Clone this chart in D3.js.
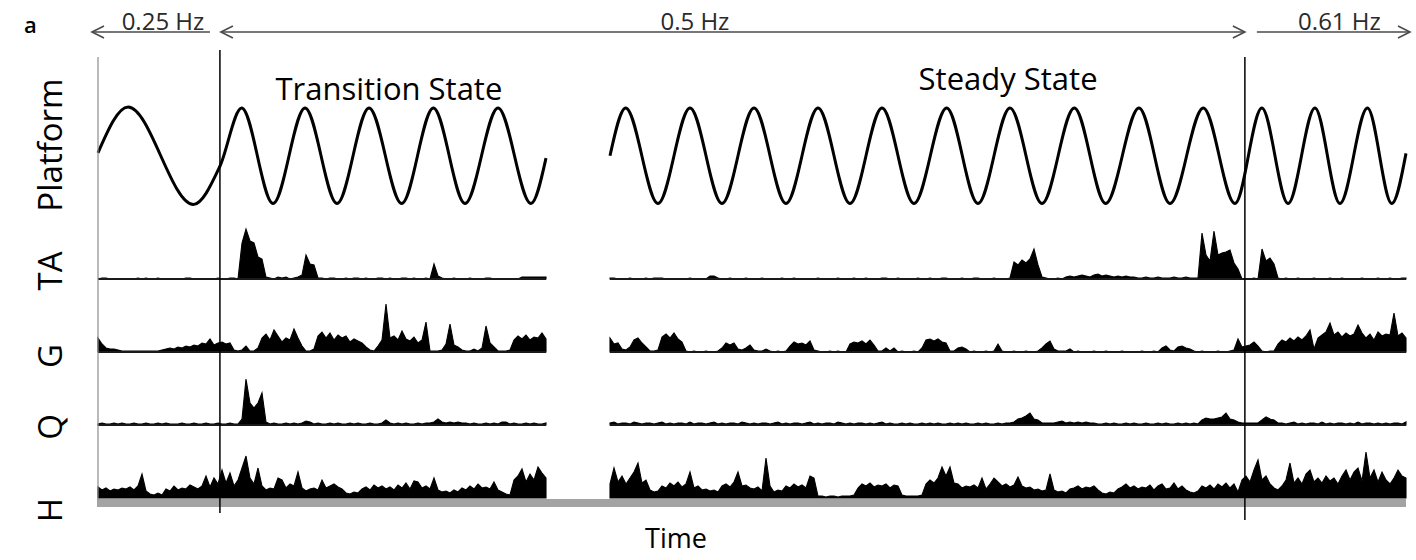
<!DOCTYPE html>
<html>
<head>
<meta charset="utf-8">
<script src="https://cdn.jsdelivr.net/npm/d3@7"></script>
<style>
  body { margin: 0; background: #fff; }
  svg { display: block; font-family: "Open Sans", sans-serif; }
</style>
</head>
<body>
<div id="chart"></div>
<script>
// channels, top to bottom
const channels = ['Platform', 'TA', 'G', 'Q', 'H'];

// the two recording windows shown (s), the part between them is cut out
const windows = [[0, 14], [16, 40.875]];
const sampleStep = 0.125; // s between EMG samples

// platform frequency phases (s)
const phases = [
  {label: '0.25 Hz', start: 0, end: 3.81},
  {label: '0.5 Hz', start: 3.81, end: 35.84},
  {label: '0.61 Hz', start: 35.84, end: 40.875}
];

// platform position, turning points [time s, normalised position]
const platformLeft = [[0, 0.06], [0.94, 1.02], [2.98, -1.02], [3.81, -0.22], [4.49, 1], [5.47, -1],
  [6.47, 1], [7.47, -1], [8.47, 1], [9.49, -1], [10.48, 1], [11.47, -1], [12.5, 1], [13.53, -1], [14, -0.05]];
const platformRight = [[16, 0], [16.49, 1], [17.5, -1], [18.5, 1], [19.5, -1], [20.5, 1], [21.5, -1],
  [22.5, 1], [23.5, -1], [24.5, 1], [25.5, -1], [26.52, 1], [27.5, -1], [28.5, 1], [29.5, -1],
  [30.51, 1], [31.49, -1], [32.53, 1], [33.5, -1], [34.54, 1], [35.53, -1], [36.37, 1], [37.19, -1],
  [38.03, 1], [38.81, -1], [39.67, 1], [40.43, -1], [40.875, 0.05]];

// rectified EMG (a.u.), one value every sampleStep
const taLeft = [0,1,1,0,0,0,0,0,0,0, 1,0,1,0,0,1,0,0,0,0, 0,0,1,1,0,0,0,0,0,0, 1,0,0,1,1,0,
  36,50,38,36,22,20,2, 1,0,2,1,2,0,1,2, 4,24,15,14,1,
  1,0,1,1,0,0,1,0,1,1, 0,1,0,0,1,1,0,1,0,0, 1,1,0,1,0,0,1,0, 15,3,
  1,0,0,1,0,0,0,1,0,0, 0,1,1,0,0,0,0,0,0,0, 2,2,2,2,2,2,2];
const taRight = [1,1,0,0,0,1,0,0,0,1, 0,1,1,1,0,0,0,0,0,0, 1,0,0,0,0, 3,3,
  1,0,0,1,0,0,0,1,0,0, 0,1,0,0,0,0,1,0,0,1, 0,0,0,0,0,1,0,0,0,0, 1,0,0,0,1,0,0,1,0,0,
  0,1,1,0,0,1,0,0,0,0, 1,0,0,1,0,0,1,1,0,0, 0,1,0,0,1,1,0,0,0,1, 0,0,0,1,
  17,14,19,16,20,30,14,2, 1,0,0,1,0,
  2,3,2,3,4,3,2,4,5,3,4,3,2,3,2,3,2,2,1, 1,2,1,1,2,1,1,1,2,1,1,2,1,1,1,
  46,24,18,48,24,26,27,29,16,10,0, 0,0,1,0, 30,18,21,15,1,
  0,1,0,0,1,0,0,0,1,0, 0,0,1,0,0,1,0,0,0,0, 1,0,0,0,1,0,0,1,0,0, 1,1];

const gLeft = [14,8,4,3,3,2,1,1,1,1, 1,1,1,1,1,1, 2,3,4,3,5,4,6,5,7,6,9,8,
  13,7,9,10,8,9,2,1,2,6,1,1,4, 14,18,12,22,16,10,14,12,23,14,6,
  1,1,3,16,20,14,19,12,17,14,16,10,13,11,9,5,2,1,6,12,
  48,14,16,12,21,13,11,15,9,12,30, 1,1,1,2,8,28,7,5,2,1,1,3,1,4,26,9,5,
  1,1,1,2,12,16,13,17,12,15,14,19,13];
const gRight = [14,8,9,3,2,5,12,14,9,5,1,1,2,15,18,14,19,13,10,1, 0,1,0,0,1,0,0,1,
  4,9,7,9,3,2,4,7,2,1,1,3,1, 0,1,0,1, 6,10,8,9,7,11,2, 1,0,0,1,0,1,0,0,
  8,10,9,11,8,12,7,1,1,4,1,4, 0,1,0,0,1,0, 4,12,13,11,13,10,9,1,1,4,5,3,
  0,1,0,0,1,0,1,8,1, 0,0,1,0,0,1,0,0, 1,4,8,11,3,1,1,1,3,
  0,1,0,0,0,1,0,0,1,0, 0,0,1,0,0,0,0,1,0,0, 1,0, 4,6,2,1,5,6,4,3,1, 0,1,0,0,0,1,0,0,1,
  2,13,5,6,7,10,6,1,0,1,1,
  8,12,10,14,11,15,12,16,22,3,14,17,20,29,17,20,15,19,16,18,27,19,14,18,12,20,16,18,17,39,16,19,14];

const qLeft = [1,2,1,1,2,1,2,1,1,2, 1,1,2,1,1,2,1,2,1,1, 1,2,1,1,2,1,1,2,1,1, 2,1,1,2,1,1,
  6,46,22,17,22,32,3, 1,2,1,1,2,1,2,1,2, 4,3,
  1,2,1,1,2,1,2,1,1,2,1,2,1,1,2,1,1, 2,5,2, 1,2,1,2,1,1,2,1,2,2, 3,6,3,
  2,3,2,3,2,2, 1,2,1,1,2,1,2,1, 3,3, 1,2,1,1,2,1,2,1,1,2];
const qRight = [2,3,1,2,2,1,3,2,1,2, 2,1,2,3,1,2,1,2,2,1, 3,1,2,2,1,2,3,1,2,1, 2,2,1,3,2,1,2,1,2,2,
  1,2,3,1,2,1,2,2,1,2, 3,1,2,1,2,2,1,3,2,1, 2,1,2,2,1,2,1,2,3,1, 2,1,1,2,1,2,1,1,2,1,
  2,1,2,1,1,2,1,2,1,2, 1,1,2,1,2,1,1,2,1,2,
  2,3,6,7,9,12,6,5,2,2,2,2,3,4,2,3,2,3,2,3,2,2,1,
  1,2,1,2,1,1,2,1,2,1, 1,2,1,1,2,1,2,1,1,2, 1,2,1,2,1,
  5,7,6,6,7,8,12,6,5,3, 2,2,2,2,2, 5,8,6,5,2,
  2,1,2,3,1,2,1,2,2,1, 3,1,2,1,2,2,1,2,1,3, 1,2,2,1,2,1,2,1,2,2, 1,3];

const hLeft = [11,8,10,7,9,8,10,9,11,8, 12,24,7,4,3,5,3,9,7,12, 8,10,9,13,11,9,12,22,11,20,
  14,28,15,25,12,18,30,42,20,14, 30,12,8,10,9,20,18,10,14,12, 26,10,7,9,10,8,18,10,12,14,
  11,9,5,4,6,5,9,11,8,13, 10,12,9,11,8,13,10,15,9,17, 16,10,12,9,20,8,6,7,5,8,
  6,10,8,12,9,14,10,11,9,16, 8,6,4,3,18,22,29,16,24,18, 31,25,20];
const hRight = [14,30,16,22,14,20,26,35,15,18, 8,6,7,12,10,15,12,16,11,14, 26,10,12,8,9,7,8,6,12,14,
  11,16,26,12,13,10,9,11,7,40, 12,6,8,7,12,10,14,11,13,10, 22,20,2,2,1,2,2,1,2,2,
  2,3,10,14,12,15,11,13,12,14, 10,13,12,3,2,2,2,2,3,14, 18,15,20,31,22,31,15,14,10,12,
  11,13,10,20,9,14,20,16,12,14, 11,13,21,12,10,11,8,9,7,8, 24,8,6,7,5,9,10,12,9,11,
  10,12,8,5,4,6,5,9,11,14, 10,12,9,11,10,13,8,12,14,9, 10,15,9,12,8,6,5,7,12,10,
  13,9,14,11,15,10,14,6,18,22, 16,28,38,18,22,14,10,8,12,18, 35,15,20,14,24,28,16,20,15,22,
  17,20,14,22,28,18,26,30,17,46, 20,28,16,26,18,14,20,28,22,20];

const emg = {TA: [taLeft, taRight], G: [gLeft, gRight], Q: [qLeft, qRight], H: [hLeft, hRight]};

// every window must hold the right number of samples
Object.entries(emg).forEach(([ch, ws]) => ws.forEach((vals, w) => {
  const n = Math.round((windows[w][1] - windows[w][0]) / sampleStep) + 1;
  if (vals.length !== n) throw new Error(ch + ' window ' + w + ': ' + vals.length + ' samples, expected ' + n);
}));

const width = 1416, height = 560;
const svg = d3.select('#chart').append('svg')
  .attr('width', width)
  .attr('height', height);

const x = d3.scaleLinear().domain([windows[0][0], windows[1][1]]).range([98, 1406]);
const base = d3.scalePoint().domain(channels).range([206, 498]);
const amp = d3.scaleLinear().domain([0, 50]).range([0, 50]);
const yPlat = d3.scaleLinear().domain([-1, 1]).range([base('Platform') - 2.5, base('Platform') - 98]);

// grey strip under the H trace
svg.append('rect')
  .attr('x', x(0) - 1)
  .attr('y', base('H') + 1)
  .attr('width', x(windows[1][1]) - x(0) + 1)
  .attr('height', 8)
  .attr('fill', '#a3a3a3');

// EMG traces
channels.slice(1).forEach(ch => {
  const y0 = base(ch);
  const area = d3.area()
    .x(d => x(d.t))
    .y0(y0)
    .y1(d => y0 - amp(d.v));
  emg[ch].forEach((vals, w) => {
    const pts = vals.map((v, i) => ({t: windows[w][0] + i * sampleStep, v: v}));
    svg.append('path').datum(pts)
      .attr('d', area)
      .attr('fill', '#000')
      .attr('stroke', '#000')
      .attr('stroke-width', 1.1)
      .attr('stroke-linejoin', 'miter');
    if (ch !== 'H') {
      svg.append('line')
        .attr('x1', x(windows[w][0])).attr('x2', x(windows[w][1]))
        .attr('y1', y0).attr('y2', y0)
        .attr('stroke', '#1a1a1a')
        .attr('stroke-width', 2.2);
    }
  });
});

// platform sinusoid
const platLine = d3.line()
  .x(d => x(d[0]))
  .y(d => yPlat(d[1]))
  .curve(d3.curveMonotoneX);
[platformLeft, platformRight].forEach(p => {
  svg.append('path').datum(p)
    .attr('d', platLine)
    .attr('fill', 'none')
    .attr('stroke', '#000')
    .attr('stroke-width', 3);
});

// vertical markers: start of record and the two frequency switches
svg.append('line')
  .attr('x1', x(0)).attr('x2', x(0)).attr('y1', 57).attr('y2', 500)
  .attr('stroke', '#8c8c8c').attr('stroke-width', 1.2);
svg.append('line')
  .attr('x1', x(phases[1].start)).attr('x2', x(phases[1].start)).attr('y1', 50).attr('y2', 513)
  .attr('stroke', '#000').attr('stroke-width', 1.5);
svg.append('line')
  .attr('x1', x(phases[2].start)).attr('x2', x(phases[2].start)).attr('y1', 57).attr('y2', 520)
  .attr('stroke', '#000').attr('stroke-width', 1.5);

// frequency arrows on top
const arrowY = 32;
const arrowSpec = [
  {x0: x(phases[0].start) - 6, x1: x(phases[0].end) - 10, left: true, right: false, dx: 12},
  {x0: x(phases[1].start) + 1, x1: x(phases[1].end), left: true, right: true, dx: -38},
  {x0: x(phases[2].start) + 12, x1: x(phases[2].end) + 4, left: false, right: true, dx: 6}
];
const arrows = svg.append('g')
  .attr('fill', 'none')
  .attr('stroke', '#4a4a4a')
  .attr('stroke-width', 1.6);
arrowSpec.forEach((a, i) => {
  arrows.append('line')
    .attr('x1', a.x0).attr('x2', a.x1)
    .attr('y1', arrowY).attr('y2', arrowY);
  if (a.left) {
    arrows.append('path').attr('d', `M${a.x0 + 12},${arrowY - 6}L${a.x0},${arrowY}L${a.x0 + 12},${arrowY + 6}`);
  }
  if (a.right) {
    arrows.append('path').attr('d', `M${a.x1 - 12},${arrowY - 6}L${a.x1},${arrowY}L${a.x1 - 12},${arrowY + 6}`);
  }
  svg.append('text')
    .attr('x', (a.x0 + a.x1) / 2 + a.dx)
    .attr('y', arrowY - 2)
    .attr('text-anchor', 'middle')
    .attr('font-size', 24)
    .attr('fill', '#2a2a2a')
    .text(phases[i].label);
});

// state captions
svg.append('text')
  .attr('x', x(9.09)).attr('y', 100)
  .attr('text-anchor', 'middle')
  .attr('font-size', 31)
  .text('Transition State');
svg.append('text')
  .attr('x', x(28.44)).attr('y', 90)
  .attr('text-anchor', 'middle')
  .attr('font-size', 31)
  .text('Steady State');

// channel names, rotated
const labelY = {Platform: 145, TA: 271, G: 356, Q: 427, H: 510};
channels.forEach(ch => {
  svg.append('text')
    .attr('transform', `translate(62,${labelY[ch]}) rotate(-90)`)
    .attr('text-anchor', 'middle')
    .attr('font-size', 33)
    .text(ch);
});

// panel letter and time axis title
svg.append('text')
  .attr('x', 24).attr('y', 33)
  .attr('font-size', 22)
  .attr('font-weight', 600)
  .text('a');
svg.append('text')
  .attr('x', 676).attr('y', 548)
  .attr('text-anchor', 'middle')
  .attr('font-size', 27)
  .text('Time');
</script>
</body>
</html>
